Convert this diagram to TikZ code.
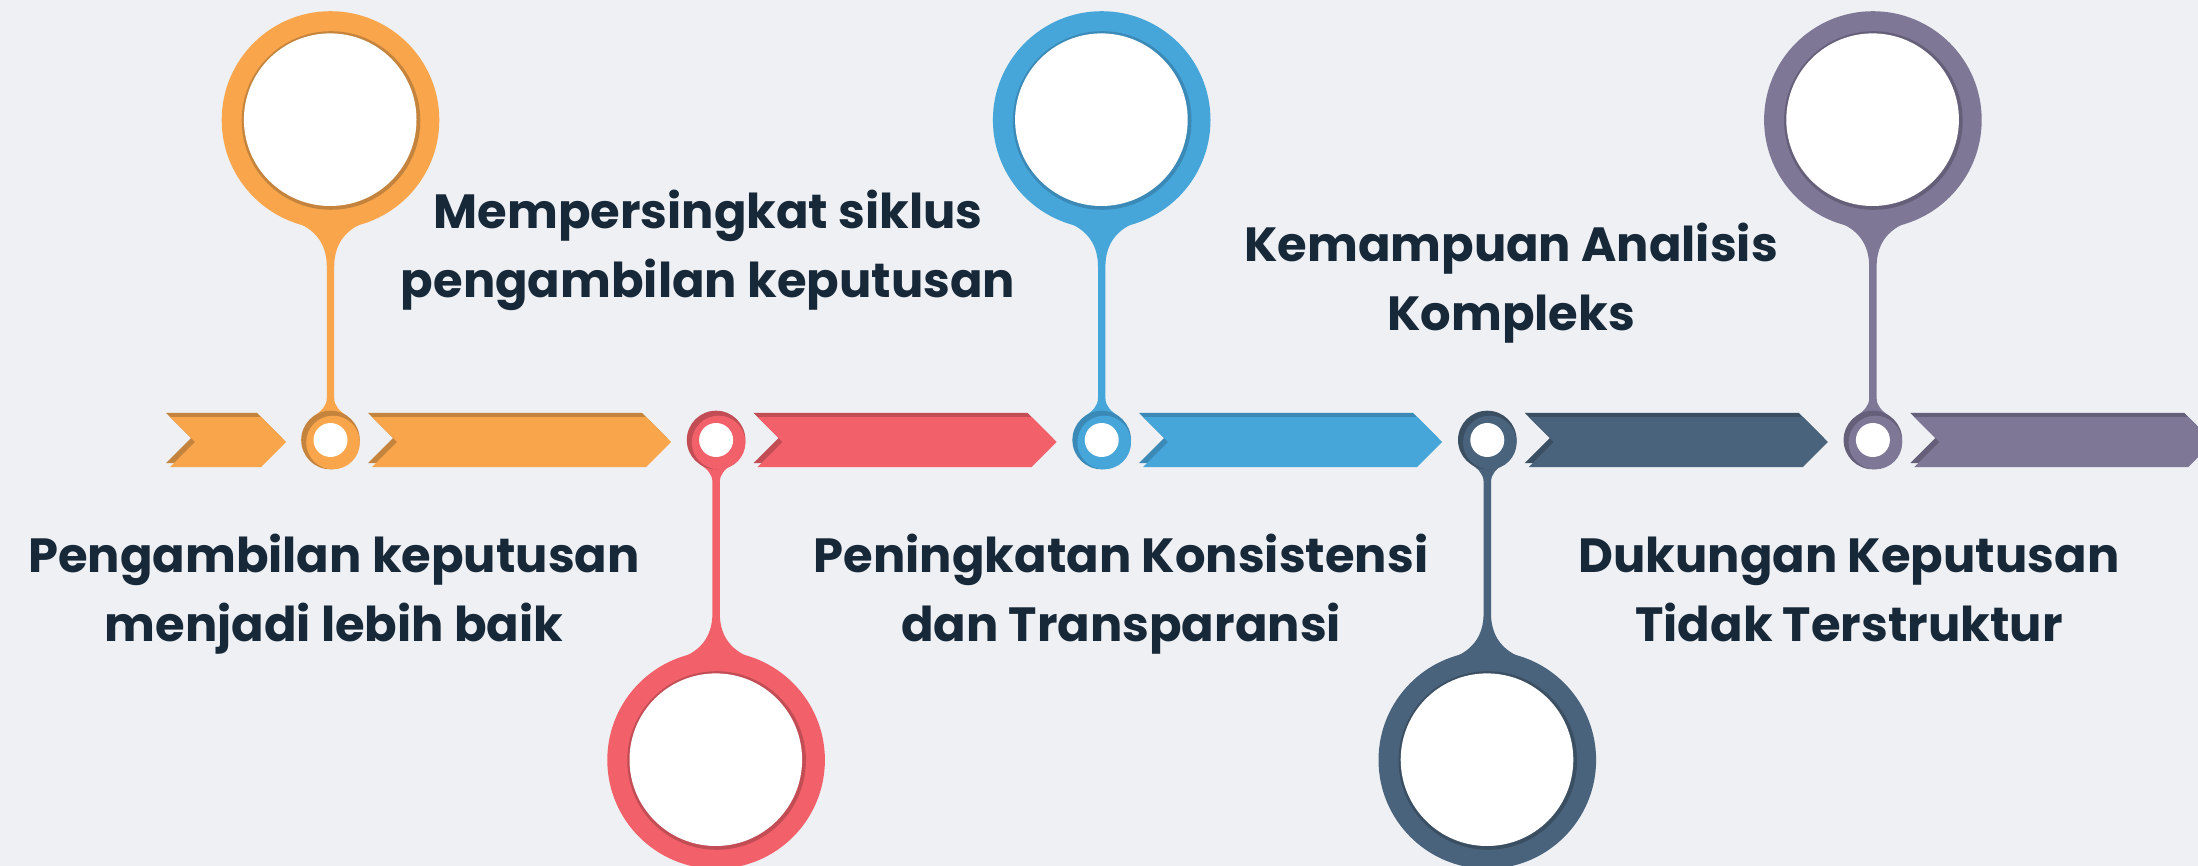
\documentclass[tikz,border=0pt]{standalone}
\usepackage{fontspec}
\setmainfont{Poppins}

\definecolor{bg}{HTML}{EEF0F4}
\definecolor{ink}{HTML}{172839}
\definecolor{orangeL}{HTML}{F9A54B}
\definecolor{orangeD}{HTML}{C5843E}
\definecolor{redL}{HTML}{F2606A}
\definecolor{redD}{HTML}{C24D55}
\definecolor{blueL}{HTML}{46A6DA}
\definecolor{blueD}{HTML}{3A89B6}
\definecolor{slateL}{HTML}{4A637C}
\definecolor{slateD}{HTML}{3B4F63}
\definecolor{purpleL}{HTML}{7F7796}
\definecolor{purpleD}{HTML}{665F7A}

% arrow band segment: #1 left x, #2 end of flat top, #3 face colour, #4 shade colour
\newcommand{\band}[4]{%
  \fill[#4] ({#1-4},413) -- ({#2-4},413) -- ({#2+21},438) -- ({#2-4},463)
        -- ({#1-4},463) -- ({#1+21},438) -- cycle;
  \fill[#3] (#1,417) -- (#2,417) -- ({#2+25},442) -- (#2,467)
        -- (#1,467) -- ({#1+25},442) -- cycle;
}

% milestone pin: #1 centre x, #2 direction (-1 up, 1 down), #3 face, #4 shade
\newcommand{\milestone}[4]{%
  \begin{scope}[shift={(#1,440)}, yscale=#2]
    \fill[#3] (16,24.4) .. controls (9.3,28.8) and (3.7,34) .. (3.7,42)
      -- (3.7,173.3) .. controls (3.7,198) and (17.1,211.6) .. (36,218.3)
      -- (-36,218.3) .. controls (-17.1,211.6) and (-3.7,198) .. (-3.7,173.3)
      -- (-3.7,42) .. controls (-3.7,34) and (-9.3,28.8) .. (-16,24.4) -- cycle;
    \fill[#3] (0,320) circle (108.8pt);
  \end{scope}
  \fill[#4] ({#1+0.5},{440+320*#2+0.5}) circle (89.3pt);
  \fill[white] ({#1-0.3},{440+320*#2-0.3}) circle (86.3pt);
  \fill[#4] (#1,440) circle (29.3pt);
  \fill[#3] ({#1+2.5},442.5) circle (26.8pt);
  \fill[white] (#1,440) circle (17pt);
}

% two centred lines, base on the first baseline
\newcommand{\twolines}[2]{\vtop{\baselineskip=69pt\halign{\hfil##\hfil\cr #1\cr #2\cr}}}

\tikzset{
  label/.style={anchor=base, inner sep=0pt, text=ink,
    font=\fontsize{48}{69}\selectfont\bfseries}
}

\begin{document}
\begin{tikzpicture}[x=1pt, y=-1pt]
  \fill[bg] (0,0) rectangle (2198,866);
  \useasboundingbox (0,0) rectangle (2198,866);
  \clip (0,0) rectangle (2198,866);

  % timeline band
  \band{170}{261}{orangeL}{orangeD}
  \band{372}{646}{orangeL}{orangeD}
  \band{757.6}{1031.6}{redL}{redD}
  \band{1143.2}{1417.2}{blueL}{blueD}
  \band{1528.8}{1802.8}{slateL}{slateD}
  \band{1914.4}{2188.4}{purpleL}{purpleD}

  % milestones
  \milestone{330.5}{-1}{orangeL}{orangeD}
  \milestone{716.1}{1}{redL}{redD}
  \milestone{1101.7}{-1}{blueL}{blueD}
  \milestone{1487.3}{1}{slateL}{slateD}
  \milestone{1872.9}{-1}{purpleL}{purpleD}

  % captions
  \node[label] (t1) at (334,572)  {\twolines{Pengambilan keputusan}{menjadi lebih baik}};
  \node[label] (t2) at (708,229)  {\twolines{Mempersingkat siklus}{pengambilan keputusan}};
  \node[label] (t3) at (1121,572) {\twolines{Peningkatan Konsistensi}{dan Transparansi}};
  \node[label] (t4) at (1511,262) {\twolines{Kemampuan Analisis}{Kompleks}};
  \node[label] (t5) at (1849,572) {\twolines{Dukungan Keputusan}{Tidak Terstruktur}};
\end{tikzpicture}
\end{document}
